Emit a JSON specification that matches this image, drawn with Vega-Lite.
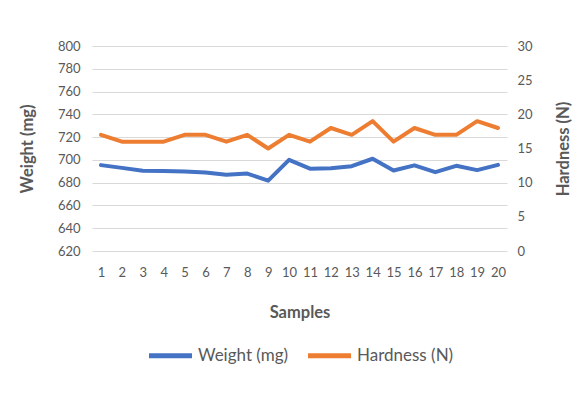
{
  "$schema": "https://vega.github.io/schema/vega-lite/v6.json",
  "width": 415,
  "height": 205,
  "autosize": {"type": "none"},
  "padding": {"left": 92, "top": 46, "right": 81, "bottom": 144},
  "background": "white",
  "config": {
    "view": {"stroke": null},
    "font": "Lato",
    "axis": {"labelFont": "Lato", "titleFont": "Lato", "labelColor": "#595959", "titleColor": "#595959", "labelFontSize": 13, "titleFontSize": 16.5, "titleFontWeight": "bold"},
    "legend": {"labelFont": "Lato", "labelColor": "#595959", "labelFontSize": 17}
  },
  "data": {
    "values": [
      {"sample": 1, "weight": 695.4, "hardness": 17},
      {"sample": 2, "weight": 693, "hardness": 16},
      {"sample": 3, "weight": 690.5, "hardness": 16},
      {"sample": 4, "weight": 690.2, "hardness": 16},
      {"sample": 5, "weight": 689.8, "hardness": 17},
      {"sample": 6, "weight": 689, "hardness": 17},
      {"sample": 7, "weight": 687, "hardness": 16},
      {"sample": 8, "weight": 688, "hardness": 17},
      {"sample": 9, "weight": 681.8, "hardness": 15},
      {"sample": 10, "weight": 700, "hardness": 17},
      {"sample": 11, "weight": 692.3, "hardness": 16},
      {"sample": 12, "weight": 692.7, "hardness": 18},
      {"sample": 13, "weight": 694.5, "hardness": 17},
      {"sample": 14, "weight": 701, "hardness": 19},
      {"sample": 15, "weight": 690.7, "hardness": 16},
      {"sample": 16, "weight": 695.2, "hardness": 18},
      {"sample": 17, "weight": 689.2, "hardness": 17},
      {"sample": 18, "weight": 694.8, "hardness": 17},
      {"sample": 19, "weight": 691, "hardness": 19},
      {"sample": 20, "weight": 695.6, "hardness": 18}
    ]
  },
  "encoding": {
    "x": {
      "field": "sample",
      "type": "ordinal",
      "scale": {"type": "point", "padding": 0.43},
      "axis": {"title": "Samples", "labelAngle": 0, "domain": false, "ticks": false, "grid": false, "labelPadding": 15, "titlePadding": 25}
    }
  },
  "layer": [
    {
      "mark": {"type": "line", "strokeWidth": 4, "strokeCap": "round", "strokeJoin": "round"},
      "encoding": {
        "y": {
          "field": "weight",
          "type": "quantitative",
          "scale": {"domain": [620, 800], "nice": false, "zero": false},
          "axis": {"title": "Weight (mg)", "values": [620, 640, 660, 680, 700, 720, 740, 760, 780, 800], "domain": false, "ticks": false, "gridColor": "#D9D9D9", "gridWidth": 1, "labelPadding": 12, "titlePadding": 22}
        },
        "color": {
          "datum": "Weight (mg)",
          "type": "nominal",
          "scale": {"domain": ["Weight (mg)", "Hardness (N)"], "range": ["#4472C4", "#ED7D31"]},
          "legend": {"title": null, "orient": "none", "direction": "horizontal", "legendX": 54, "legendY": 285, "symbolType": "stroke", "symbolSize": 1850, "symbolStrokeWidth": 5, "labelOffset": 3, "columnPadding": 8}
        }
      }
    },
    {
      "mark": {"type": "line", "strokeWidth": 4, "strokeCap": "round", "strokeJoin": "round"},
      "encoding": {
        "y": {
          "field": "hardness",
          "type": "quantitative",
          "scale": {"domain": [0, 30], "nice": false},
          "axis": {"title": "Hardness (N)", "orient": "right", "values": [0, 5, 10, 15, 20, 25, 30], "grid": false, "domain": false, "ticks": false, "labelPadding": 10, "titlePadding": 39, "titleAngle": 270}
        },
        "color": {"datum": "Hardness (N)", "type": "nominal"}
      }
    }
  ],
  "resolve": {"scale": {"y": "independent"}}
}
